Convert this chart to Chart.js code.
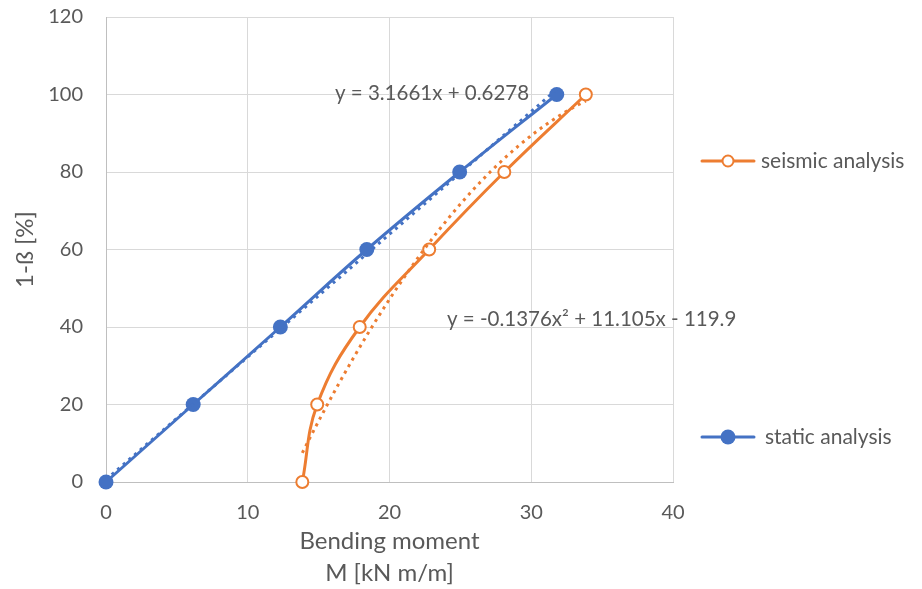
<!DOCTYPE html>
<html><head><meta charset="utf-8">
<script src="https://cdn.jsdelivr.net/npm/chart.js@4.4.0/dist/chart.umd.min.js"></script>
<style>html,body{margin:0;padding:0;background:#fff}#wrap{width:922px;height:589px}</style>
</head><body><div id="wrap"><canvas id="c" width="922" height="589"></canvas></div>
<script>
// Data
const levels = [0, 20, 40, 60, 80, 100];               // 1-ß [%]
const staticM = [0, 6.15, 12.3, 18.4, 24.95, 31.8];     // static analysis M
const seismicM = [13.85, 14.9, 17.9, 22.8, 28.1, 33.85];// seismic analysis M
const xTicks = [0, 10, 20, 30, 40];
const yTicks = [0, 20, 40, 60, 80, 100, 120];
// Trendline equations shown on the chart
const linA = 3.1661, linB = 0.6278;
const polA = -0.1376, polB = 11.105, polC = -119.9;
const linLabel = 'y = 3.1661x + 0.6278';
const polLabel = 'y = -0.1376x\u00B2 + 11.105x - 119.9';

const BLUE = '#4472C4', ORANGE = '#ED7D31', TXT = '#595959', GRID = '#d9d9d9';
const FONT = 'Lato';

function trend(fn, x0, x1, n) {
  const pts = [];
  for (let i = 0; i <= n; i++) { const x = x0 + (x1 - x0) * i / n; pts.push({x, y: fn(x)}); }
  return pts;
}
const staticPts = staticM.map((m, i) => ({x: m, y: levels[i]}));
const seismicPts = seismicM.map((m, i) => ({x: m, y: levels[i]}));
const linTrend = trend(x => linA * x + linB, staticM[0], staticM[staticM.length - 1], 60);
const polTrend = trend(x => polA * x * x + polB * x + polC, seismicM[0], seismicM[seismicM.length - 1], 80);

const overlay = {
  id: 'overlay',
  afterDraw(chart) {
    const ctx = chart.ctx;
    ctx.save();
    ctx.font = '20.5px ' + FONT;
    ctx.fillStyle = TXT;
    ctx.textBaseline = 'middle';
    ctx.textAlign = 'center';
    ctx.fillText(linLabel, 432, 93);
    ctx.textAlign = 'left';
    ctx.fillText(polLabel, 447, 319);
    // legend
    ctx.font = '21px ' + FONT;
    const items = [{y: 161, c: ORANGE, t: 'seismic analysis', hollow: true},
                   {y: 437, c: BLUE, t: 'static analysis', hollow: false}];
    items.forEach(it => {
      ctx.strokeStyle = it.c; ctx.lineWidth = 3; ctx.lineCap = 'round';
      ctx.beginPath(); ctx.moveTo(702, it.y); ctx.lineTo(754, it.y); ctx.stroke();
      ctx.beginPath(); ctx.arc(728, it.y, it.hollow ? 5.5 : 7.5, 0, Math.PI * 2);
      if (it.hollow) { ctx.fillStyle = '#fff'; ctx.fill(); ctx.lineWidth = 2; ctx.stroke(); }
      else { ctx.fillStyle = it.c; ctx.fill(); }
      ctx.fillStyle = TXT; ctx.textAlign = 'left';
      ctx.fillText(it.t, it.hollow ? 761 : 765, it.y);
    });
    ctx.restore();
  }
};

new Chart(document.getElementById('c'), {
  type: 'line',
  data: {
    datasets: [
      {label: 'trend static', data: linTrend, borderColor: BLUE, borderWidth: 3, borderDash: [3, 4.5],
       pointRadius: 0, tension: 0, fill: false, clip: false},
      {label: 'trend seismic', data: polTrend, borderColor: ORANGE, borderWidth: 3, borderDash: [3, 4.5],
       pointRadius: 0, tension: 0, fill: false, clip: false},
      {label: 'seismic analysis', data: seismicPts, borderColor: ORANGE, borderWidth: 3,
       pointRadius: 6, pointBackgroundColor: '#fff', pointBorderColor: ORANGE, pointBorderWidth: 2,
       tension: 0.4, fill: false, clip: false},
      {label: 'static analysis', data: staticPts, borderColor: BLUE, borderWidth: 3,
       pointRadius: 7.5, pointBackgroundColor: BLUE, pointBorderColor: BLUE, pointBorderWidth: 0,
       tension: 0.4, fill: false, clip: false}
    ]
  },
  options: {
    responsive: false, animation: false, devicePixelRatio: 1,
    layout: {padding: {left: 0, right: 249, top: 17, bottom: 0}},
    plugins: {legend: {display: false}, tooltip: {enabled: false}},
    scales: {
      x: {type: 'linear', min: 0, max: 40,
          afterBuildTicks: s => { s.ticks = xTicks.map(v => ({value: v})); },
          afterFit: s => { s.height = 107; s.paddingLeft = 0; s.paddingRight = 0; },
          grid: {color: GRID, lineWidth: 1, drawTicks: false},
          border: {color: '#bfbfbf', width: 1},
          ticks: {color: TXT, font: {family: FONT, size: 20}, padding: 19, maxRotation: 0},
          title: {display: true, text: ['Bending moment', 'M [kN m/m]'], color: TXT,
                  font: {family: FONT, size: 24, lineHeight: 1.33}, padding: {top: 0, bottom: 0}}},
      y: {type: 'linear', min: 0, max: 120,
          afterBuildTicks: s => { s.ticks = yTicks.map(v => ({value: v})); },
          afterFit: s => { s.width = 106; s.paddingTop = 0; s.paddingBottom = 0; },
          grid: {color: GRID, lineWidth: 1, drawTicks: false},
          border: {color: '#bfbfbf', width: 1},
          ticks: {color: TXT, font: {family: FONT, size: 20}, padding: 23},
          title: {display: true, text: '1-ß [%]', color: TXT,
                  font: {family: FONT, size: 24}, padding: {top: 11, bottom: 0}}}
    }
  },
  plugins: [overlay]
});
</script></body></html>
